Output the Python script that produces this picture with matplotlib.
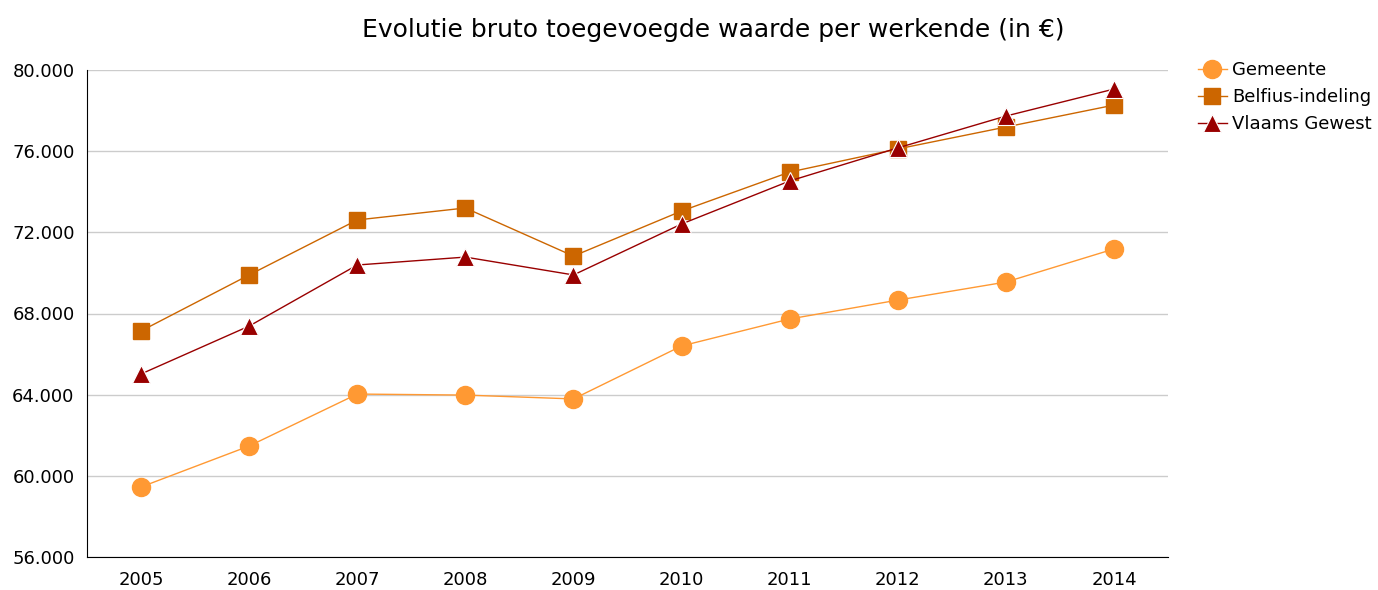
import matplotlib
matplotlib.use('Agg')
import matplotlib.pyplot as plt
from matplotlib.ticker import FuncFormatter

years = ['2005', '2006', '2007', '2008', '2009', '2010', '2011', '2012', '2013', '2014']
gemeente = [59450, 61470, 64030, 63980, 63790, 66400, 67730, 68660, 69550, 71180]
belfius = [67140, 69900, 72610, 73200, 70830, 73050, 74970, 76110, 77190, 78270]
vlaams = [65020, 67380, 70390, 70780, 69900, 72410, 74530, 76160, 77730, 79060]

plt.rcParams['font.family'] = ['DejaVu Sans']

fig = plt.figure(figsize=(13.78, 5.9), dpi=100)
ax = fig.add_axes([87/1378, 33/590, (1168-87)/1378, (557-70)/590])

x = range(len(years))
ax.plot(x, gemeente, color='#FF9933', lw=1, marker='o', ms=13, mec='#FF9933', label='Gemeente', zorder=3)
ax.plot(x, belfius, color='#CC6600', lw=1, marker='s', ms=12, mec='#CC6600', label='Belfius-indeling', zorder=3)
ax.plot(x, vlaams, color='#990000', lw=1, marker='^', ms=13, mec='white', mew=0.8, label='Vlaams Gewest', zorder=4)

ax.set_xlim(-0.5, len(years) - 0.5)
ax.set_ylim(56000, 80000)
ax.set_yticks(range(56000, 80001, 4000))
ax.yaxis.set_major_formatter(FuncFormatter(lambda v, p: f'{int(v):,}'.replace(',', '.')))
ax.set_xticks(list(x))
ax.set_xticklabels(years)
ax.tick_params(length=0, labelsize=13, pad=10)
ax.tick_params(axis='y', pad=9)
ax.grid(axis='y', color='#cccccc', lw=1)
ax.set_axisbelow(True)
for s in ['top', 'right']:
    ax.spines[s].set_visible(False)
ax.spines['left'].set_color('black')
ax.spines['bottom'].set_color('black')

fig.text(713/1378, 1 - 30/590, 'Evolutie bruto toegevoegde waarde per werkende (in €)',
         ha='center', va='center', fontsize=18)

ax.legend(loc='upper left', bbox_to_anchor=(1.021, 1.033), frameon=False, fontsize=13,
          handlelength=1.6, handletextpad=0.3, labelspacing=0.5, borderaxespad=0)

fig.savefig('out.png', dpi=100)
